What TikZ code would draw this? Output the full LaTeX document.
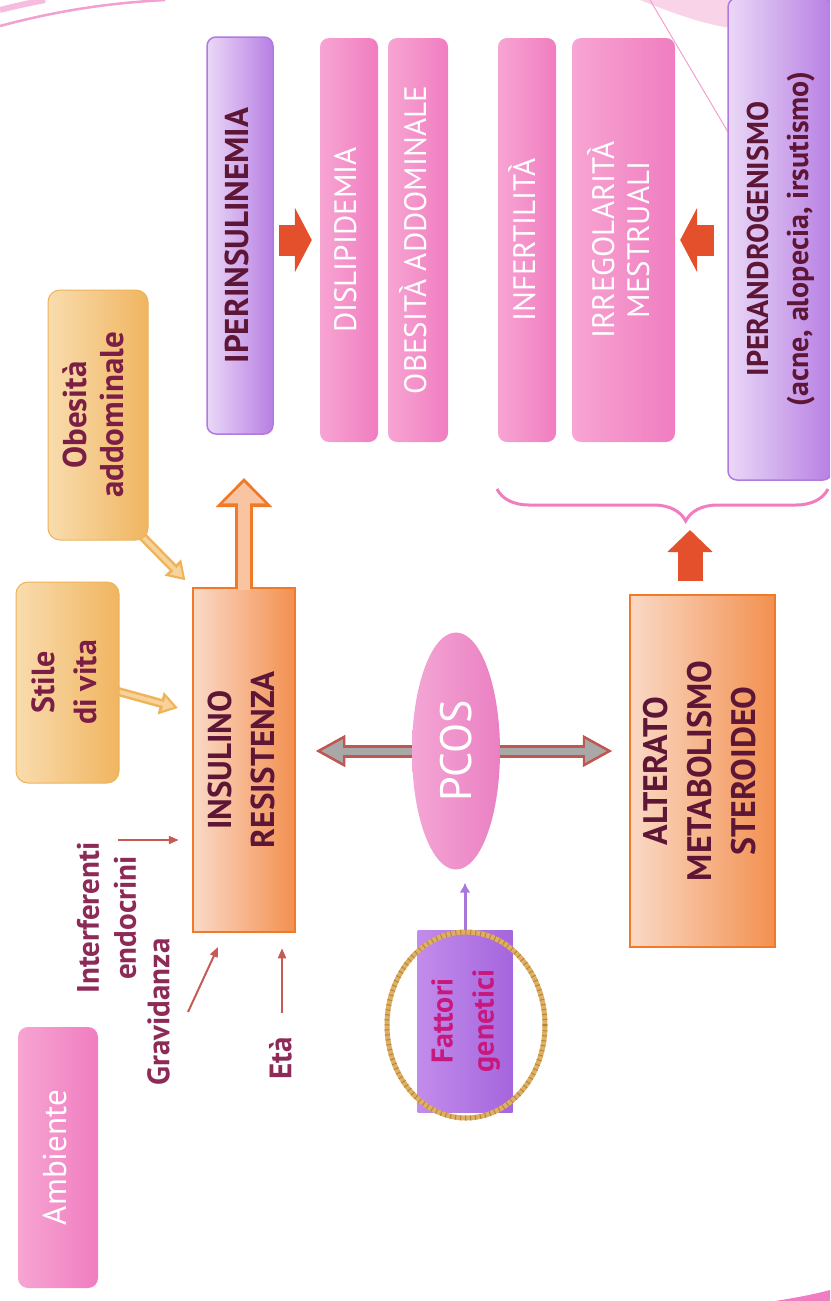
\documentclass[tikz,border=0pt]{standalone}
\usepackage{fontspec}
\setmainfont{PT Sans}
\usepackage{graphicx}
\usetikzlibrary{arrows.meta,decorations.pathreplacing,calc,shapes.geometric}
\pgfdeclarelayer{bg}
\pgfsetlayers{bg,main}
\definecolor{purpL}{HTML}{EAD8F7}
\definecolor{purpR}{HTML}{B77FE3}
\definecolor{purpB}{HTML}{B07ADF}
\definecolor{pinkL}{HTML}{F7A5D3}
\definecolor{pinkR}{HTML}{F07DC0}
\definecolor{orL}{HTML}{FAD9C6}
\definecolor{orR}{HTML}{F39050}
\definecolor{orB}{HTML}{F07A28}
\definecolor{orIn}{HTML}{F8C4A2}
\definecolor{caL}{HTML}{F9DCAE}
\definecolor{caR}{HTML}{F0B560}
\definecolor{caB}{HTML}{EDB45C}
\definecolor{caIn}{HTML}{F7D29A}
\definecolor{darktxt}{HTML}{5E1636}
\definecolor{calltxt}{HTML}{7B1E45}
\definecolor{labtxt}{HTML}{8E2A58}
\definecolor{redarr}{HTML}{E4502B}
\definecolor{thinred}{HTML}{C85A55}
\definecolor{dblout}{HTML}{C0564F}
\definecolor{dblin}{HTML}{A8A8A8}
\definecolor{magtxt}{HTML}{C8187E}
\definecolor{ringgold}{HTML}{DDB066}
\definecolor{ringdk}{HTML}{B98433}
\definecolor{fgL}{HTML}{C28CEB}
\definecolor{fgR}{HTML}{A565DD}
\definecolor{fgArrow}{HTML}{A678DC}
\definecolor{pinkdeco}{HTML}{F2A0CF}
\definecolor{pcosL}{HTML}{F4A6D5}
\definecolor{pcosR}{HTML}{EA80C2}
\newcommand{\rtext}[2]{\rotatebox{90}{#1\begin{tabular}{@{}c@{}}#2\end{tabular}}}
\begin{document}
\begin{tikzpicture}[x=1pt,y=-1pt,
  bx/.style={rectangle, inner sep=0pt},
  purplebox/.style={bx, rounded corners=9pt, draw=purpB, line width=1.5pt, left color=purpL, right color=purpR, text=darktxt},
  pinkbox/.style={bx, rounded corners=9pt, left color=pinkL, right color=pinkR, text=white},
  orangebox/.style={bx, draw=orB, line width=2.5pt, left color=orL, right color=orR, text=darktxt},
  calloutbox/.style={bx, rounded corners=12pt, draw=caB, line width=1pt, left color=caL, right color=caR, text=calltxt},
  lbltxt/.style={inner sep=0pt, text=labtxt},
  bigred/.style={draw=redarr, line width=31pt, -{Triangle[length=17pt,width=64pt]}},
  thinarr/.style={draw=thinred, line width=2pt, -{Triangle[length=10pt,width=8pt]}},
  callout out/.style={draw=caB, line width=9pt, -{Triangle[length=18pt,width=22pt]}},
  callout in/.style={draw=caIn, line width=4pt, -{Triangle[length=11pt,width=13pt]}},
]
\useasboundingbox (0,0) rectangle (830,1301);
\clip (0,0) rectangle (830,1301);
\begin{pgfonlayer}{bg}
\fill[white] (0,0) rectangle (830,1301);
% background decorations
\fill[pinkdeco!45] (640,0) .. controls (680,16) and (705,24) .. (730,28) -- (730,0) -- cycle;
\draw[pinkdeco, line width=1pt] (650,0) -- (728,132);
\draw[pinkdeco, line width=2.5pt] (0,26) .. controls (60,10) and (110,3) .. (165,0);
\draw[pinkdeco!70, line width=6pt] (0,10) .. controls (20,5) .. (45,0);
\fill[pinkR] (775,1301) .. controls (800,1297) and (815,1294) .. (830,1290) -- (830,1301) -- cycle;
\end{pgfonlayer}

% top row
\node[purplebox, minimum width=66pt, minimum height=397pt] (iper) at (240,235.5)
  {\rtext{\fontsize{33}{40}\selectfont\bfseries}{IPERINSULINEMIA}};
\node[pinkbox, minimum width=58pt, minimum height=404pt] (disl) at (349,240)
  {\rtext{\fontsize{31}{36}\selectfont}{DISLIPIDEMIA}};
\node[pinkbox, minimum width=60pt, minimum height=404pt] (obad) at (418,240)
  {\rtext{\fontsize{31}{36}\selectfont}{OBESITÀ ADDOMINALE}};
\node[pinkbox, minimum width=58pt, minimum height=404pt] (infe) at (527,240)
  {\rtext{\fontsize{31}{36}\selectfont}{INFERTILITÀ}};
\node[pinkbox, minimum width=103pt, minimum height=404pt] (irre) at (623.5,240)
  {\rtext{\fontsize{31}{35}\selectfont}{IRREGOLARITÀ\\MESTRUALI}};
\node[purplebox, minimum width=104pt, minimum height=482pt] (ipera) at (780,239)
  {\rtext{\fontsize{30}{40}\selectfont\bfseries}{IPERANDROGENISMO\\(acne, alopecia, irsutismo)}};

\draw[bigred, shorten <=5pt, shorten >=8pt] (iper.east |- disl.west) -- (disl.west);
\draw[bigred, shorten <=13pt, shorten >=5pt] (ipera.west |- irre.east) -- (irre.east);

% brace
\draw[pinkR, line width=3pt, decorate, decoration={brace, mirror, amplitude=32pt, aspect=0.57}] (497,489) -- (828,489);

% middle row
\node[orangebox, minimum width=102pt, minimum height=344pt] (ir) at (244,760)
  {\rtext{\fontsize{33}{43}\selectfont\bfseries}{INSULINO\\RESISTENZA}};
\node[orangebox, minimum width=145pt, minimum height=352pt] (alt) at (702.5,771)
  {\rtext{\fontsize{34}{44}\selectfont\bfseries}{ALTERATO\\METABOLISMO\\STEROIDEO}};
\node[ellipse, inner sep=0pt, minimum width=88pt, minimum height=237pt, left color=pcosL, right color=pcosR, text=white] (pcos) at (456,751)
  {\rotatebox{90}{\fontsize{44}{50}\selectfont PCOS}};

\begin{pgfonlayer}{bg}
\draw[dblout, line width=13pt, {Triangle[length=30pt,width=30pt]}-{Triangle[length=30pt,width=30pt]}, shorten <=19pt, shorten >=16pt] (ir.east |- pcos) -- (alt.west |- pcos);
\draw[dblin, line width=7pt, {Triangle[length=22pt,width=22pt]}-{Triangle[length=22pt,width=22pt]}, shorten <=24.6pt, shorten >=21.6pt] (ir.east |- pcos) -- (alt.west |- pcos);
\end{pgfonlayer}

% up arrow to brace
\coordinate (bt) at (690,522);
\draw[draw=redarr, line width=25pt, -{Triangle[length=22pt,width=44pt]}, shorten <=13pt, shorten >=8pt] (alt.north -| bt) -- (bt);

% hollow arrow from insulino resistenza
\coordinate (irtip) at (244,478);
\draw[draw=orB, line width=18pt, -{Triangle[length=29pt,width=55pt]}] (ir.north) -- (irtip);
\draw[draw=orIn, line width=12pt, -{Triangle[length=21pt,width=41pt]}, shorten <=-3pt, shorten >=4.4pt] (ir.north) -- (irtip);

% callouts
\node[calloutbox, minimum width=100pt, minimum height=250pt] (oa) at (98,415)
  {\rtext{\fontsize{33}{37}\selectfont\bfseries}{Obesità\\addominale}};
\node[calloutbox, minimum width=103pt, minimum height=201pt] (sv) at (67.5,682.5)
  {\rtext{\fontsize{32}{42}\selectfont\bfseries}{Stile\\di vita}};
\coordinate (svtip) at (178,708);
\begin{pgfonlayer}{bg}
\draw[callout out, shorten >=9pt] ($(oa.south east)+(-7,-5)$) -- (ir.north west);
\draw[callout in, shorten >=13pt, shorten <=2pt] ($(oa.south east)+(-7,-5)$) -- (ir.north west);
\draw[callout out] ($(sv.east)+(-5,8)$) -- (svtip);
\draw[callout in, shorten >=4pt, shorten <=2pt] ($(sv.east)+(-5,8)$) -- (svtip);
\end{pgfonlayer}

% environment labels
\node[lbltxt] (ie) at (110,918) {\rtext{\fontsize{31}{37}\selectfont\bfseries}{Interferenti\\endocrini}};
\node[lbltxt] (gr) at (162,1012) {\rtext{\fontsize{31}{37}\selectfont\bfseries}{Gravidanza}};
\node[lbltxt] (eta) at (284,1058) {\rtext{\fontsize{31}{37}\selectfont\bfseries}{Età}};
\coordinate (ie-s) at (118,840);
\draw[thinarr, shorten >=13pt] (ie-s) -- (ir.west |- ie-s);
\coordinate (gr-s) at (188,1012);
\coordinate (gr-e) at (218,947);
\draw[thinarr] (gr-s) -- (gr-e);
\coordinate (eta-s) at (282,1013);
\draw[thinarr, shorten >=15pt] (eta-s) -- (eta-s |- ir.south);

\node[pinkbox, rounded corners=10pt, minimum width=80pt, minimum height=261pt] (amb) at (58,1157.5)
  {\rtext{\fontsize{33}{40}\selectfont}{Ambiente}};

% genetic factors
\node[bx, minimum width=95pt, minimum height=182pt, left color=fgL, right color=fgR, text=magtxt] (fg) at (465,1021)
  {\rtext{\fontsize{30}{41}\selectfont\bfseries}{Fattori\\genetici}};
\node[ellipse, inner sep=0pt, minimum width=158pt, minimum height=186pt, draw=ringgold, line width=5pt,
      postaction={draw=ringdk, line width=5pt, dash pattern=on 1pt off 4pt}] (ring) at (466,1025) {};
\draw[draw=fgArrow, line width=3pt, -{Latex[length=10pt,width=11pt]}, shorten >=13pt] (fg.north) -- (fg.north |- pcos.south);
\end{tikzpicture}
\end{document}
